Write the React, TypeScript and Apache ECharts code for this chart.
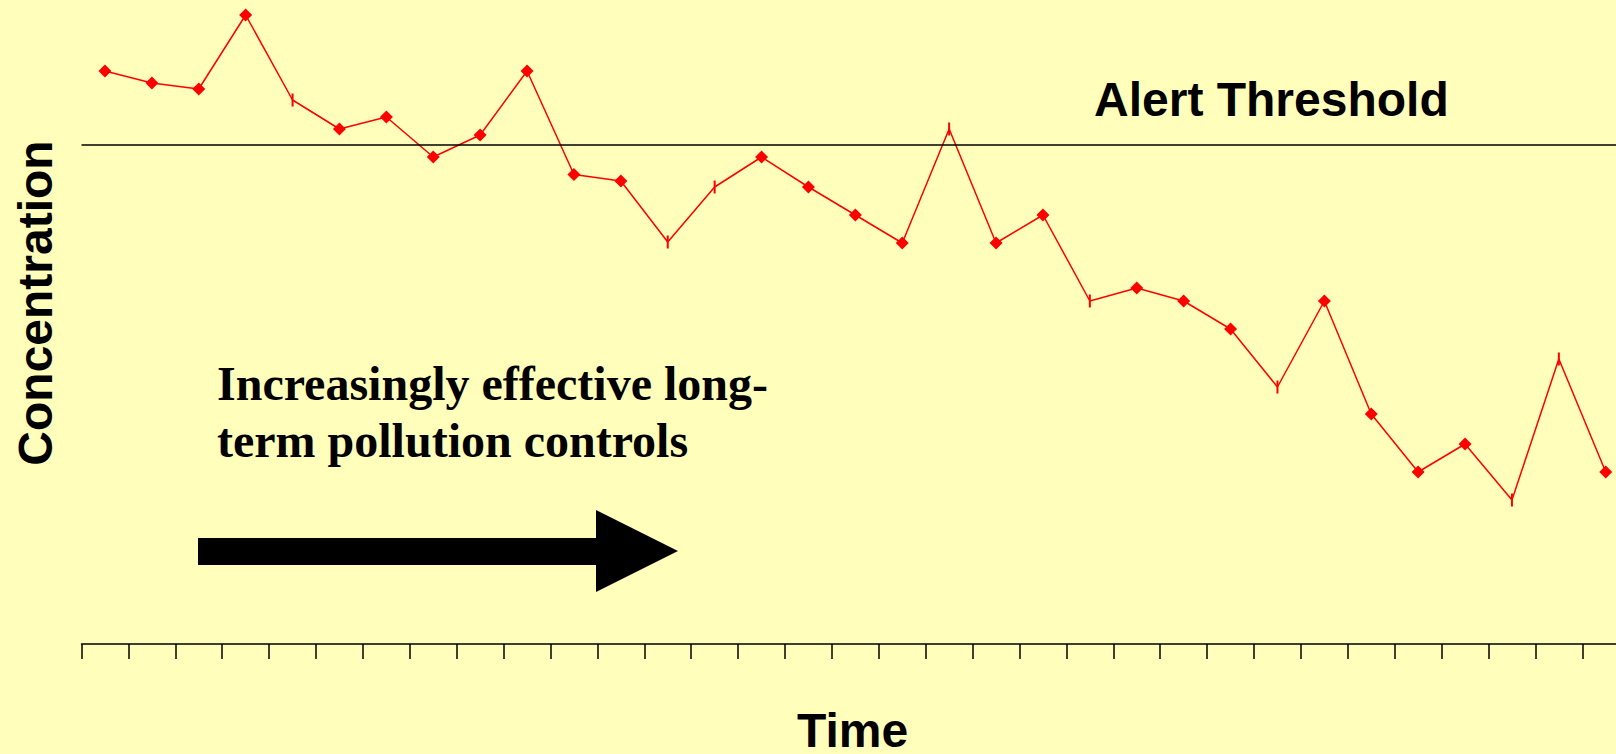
import React, { useEffect, useRef } from "react";
import * as echarts from "echarts";

const timeCategories: string[] = Array.from({ length: 33 }, (_, i) => String(i + 1));

const concentration: number[] = [
  57.3, 56.1, 55.5, 62.9, 54.4, 51.5, 52.7, 48.7, 50.9, 57.3, 46.95,
  46.3, 40.2, 45.7, 48.7, 45.7, 42.9, 40.1, 51.5, 40.1, 42.9,
  34.3, 35.6, 34.3, 31.5, 25.7, 34.3, 23.0, 17.2, 20.0, 14.4, 28.5, 17.2,
];

// indices of points drawn with a short vertical dash instead of a diamond
const dashPoints: number[] = [4, 12, 13, 18, 21, 25, 30, 31];

const alertThreshold = 49.9;

const BG = "#FFFFBB";

export default function App() {
  const ref = useRef<HTMLDivElement>(null);

  useEffect(() => {
    if (!ref.current) return;
    const chart = echarts.init(ref.current, undefined, { renderer: "svg" });

    const seriesData = concentration.map((v, i) =>
      dashPoints.includes(i)
        ? { value: v, symbol: "rect", symbolSize: [2, 13] }
        : { value: v, symbol: "diamond", symbolSize: 13 }
    );

    chart.setOption({
      animation: false,
      backgroundColor: BG,
      grid: { left: 81.5, top: 4, width: 46.9 * 33, height: 640 },
      xAxis: {
        type: "category",
        data: timeCategories,
        boundaryGap: true,
        axisLine: { show: true, lineStyle: { color: "#000", width: 1.5 } },
        axisTick: {
          show: true,
          interval: 0,
          length: 15,
          lineStyle: { color: "#000", width: 1.5 },
        },
        axisLabel: { show: false },
        splitLine: { show: false },
      },
      yAxis: {
        type: "value",
        min: 0,
        max: 64,
        show: false,
        splitLine: { show: false },
      },
      series: [
        {
          type: "line",
          data: seriesData,
          lineStyle: { color: "#FF0000", width: 1.5 },
          itemStyle: { color: "#FF0000" },
          markLine: {
            silent: true,
            symbol: "none",
            label: { show: false },
            lineStyle: { color: "#000", width: 1.5, type: "solid" },
            data: [{ yAxis: alertThreshold }],
          },
        },
      ],
      graphic: [
        {
          type: "text",
          x: 1094,
          y: 99,
          style: {
            text: "Alert Threshold",
            font: "bold 48px 'Liberation Sans', Arial, sans-serif",
            fill: "#000",
            textAlign: "left",
            textVerticalAlign: "middle",
          },
        },
        {
          type: "text",
          x: 35,
          y: 303,
          rotation: Math.PI / 2,
          style: {
            text: "Concentration",
            font: "bold 48px 'Liberation Sans', Arial, sans-serif",
            fill: "#000",
            textAlign: "center",
            textVerticalAlign: "middle",
          },
        },
        {
          type: "text",
          x: 852.5,
          y: 730,
          style: {
            text: "Time",
            font: "bold 48px 'Liberation Sans', Arial, sans-serif",
            lineHeight: 40,
            fill: "#000",
            textAlign: "center",
            textVerticalAlign: "middle",
          },
        },
        {
          type: "text",
          x: 217,
          y: 383,
          style: {
            text: "Increasingly effective long-",
            font: "bold 48px 'Liberation Serif', 'Times New Roman', serif",
            fill: "#000",
            textAlign: "left",
            textVerticalAlign: "middle",
          },
        },
        {
          type: "text",
          x: 217,
          y: 440,
          style: {
            text: "term pollution controls",
            font: "bold 48px 'Liberation Serif', 'Times New Roman', serif",
            fill: "#000",
            textAlign: "left",
            textVerticalAlign: "middle",
          },
        },
        {
          type: "polygon",
          shape: {
            points: [
              [198, 538],
              [596, 538],
              [596, 510],
              [678, 551],
              [596, 592],
              [596, 565],
              [198, 565],
            ],
          },
          style: { fill: "#000" },
        },
      ],
    });

    return () => chart.dispose();
  }, []);

  return (
    <div
      style={{
        position: "fixed",
        left: 0,
        top: 0,
        width: 1616,
        height: 754,
        overflow: "hidden",
        background: BG,
      }}
    >
      <div ref={ref} style={{ width: 1660, height: 754 }} />
    </div>
  );
}
